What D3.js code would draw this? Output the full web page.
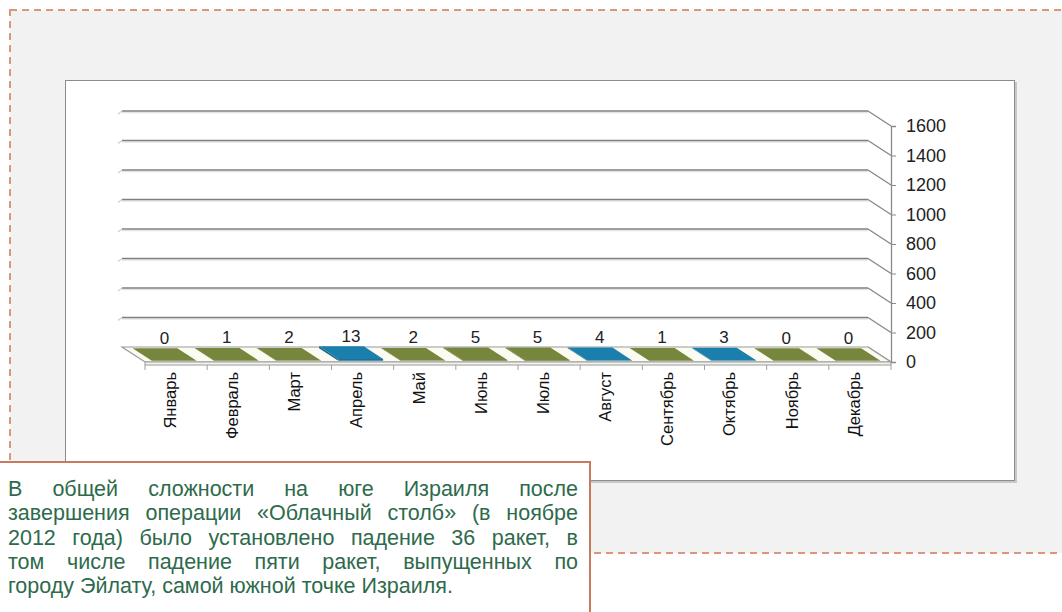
<!DOCTYPE html>
<html><head><meta charset="utf-8">
<script src="https://cdn.jsdelivr.net/npm/d3@7"></script>
<style>body{margin:0;background:#fff;} svg{display:block}</style>
</head><body>
<svg id="c" width="1062" height="612"></svg>
<script>
// ---- data ----
const months = ["Январь","Февраль","Март","Апрель","Май","Июнь","Июль","Август","Сентябрь","Октябрь","Ноябрь","Декабрь"];
const rockets = [0,1,2,13,2,5,5,4,1,3,0,0];
const yTicks = [0,200,400,600,800,1000,1200,1400,1600];
const highlightMonths = ["Апрель","Август","Октябрь"];
const noteLines = [
  "В общей сложности на юге Израиля после",
  "завершения операции «Облачный столб» (в ноябре",
  "2012 года) было установлено падение 36 ракет, в",
  "том числе падение пяти ракет, выпущенных по",
  "городу Эйлату, самой южной точке Израиля."
];

// ---- layout ----
const svg = d3.select("#c");
const FONT = "'Liberation Sans', Arial, sans-serif";
const D = {x:-23, y:-15};           // depth offset (front -> back)
const x = d3.scaleBand().domain(months).range([145, 891]).padding(0);
const y = d3.scaleLinear().domain([0,1600]).range([362,126]);
const step = x.step();

// outer dashed panel
svg.append("rect").attr("x",10).attr("y",10).attr("width",1080).attr("height",543)
  .attr("fill","#f2f2f2").attr("stroke","#d9987c").attr("stroke-width",2).attr("stroke-dasharray","7,5");

// chart box
svg.append("rect").attr("x",67).attr("y",82).attr("width",950).attr("height",401).attr("fill","#c8c8c8");
svg.append("rect").attr("x",65.5).attr("y",80.5).attr("width",949).attr("height",400)
  .attr("fill","#fff").attr("stroke","#8c8c8c");

const g = svg.append("g");

// gridlines (back wall + right side wall)
yTicks.forEach(t => {
  const yb = y(t) + D.y;
  if (t > 0) {
    g.append("line").attr("x1", x.range()[0]+D.x).attr("x2", x.range()[1]+D.x)
      .attr("y1", yb+1.5).attr("y2", yb+1.5).attr("stroke","#e4e4e4").attr("stroke-width",1.5);
    g.append("line").attr("x1", x.range()[0]+D.x).attr("x2", x.range()[1]+D.x)
      .attr("y1", yb).attr("y2", yb).attr("stroke","#808080").attr("stroke-width",1.5);
    g.append("line").attr("x1", x.range()[0]+D.x-4).attr("x2", x.range()[0]+D.x)
      .attr("y1", yb+3).attr("y2", yb).attr("stroke","#cfcfcf").attr("stroke-width",1.2);
  }
  g.append("line").attr("x1", x.range()[1]+D.x).attr("x2", x.range()[1])
    .attr("y1", yb).attr("y2", y(t)).attr("stroke","#868686").attr("stroke-width",1.3);
});

// floor
const x0 = x.range()[0], x1 = x.range()[1], y0 = y(0);
g.append("polygon")
  .attr("points", [[x0+D.x,y0+D.y],[x1+D.x,y0+D.y],[x1,y0],[x0,y0]].map(p=>p.join(",")).join(" "))
  .attr("fill","#fbfbf2").attr("stroke","#9a9a9a").attr("stroke-width",1.2);
g.append("rect").attr("x",x0).attr("y",y0).attr("width",x1-x0).attr("height",3)
  .attr("fill","#f4f4ec").attr("stroke","#9a9a9a").attr("stroke-width",1);

// bars (3D boxes)
const bw = step*0.72, f0 = 0.08, f1 = 0.92;
const colorOf = m => highlightMonths.includes(m) ? "#1b7fae" : "#76863c";
months.forEach((m,i) => {
  const v = rockets[i];
  const bx0 = x(m) + (step-bw)/2, bx1 = bx0 + bw;
  const yv = y(v);
  const P = (px, py, f) => [px + f*D.x, py + f*D.y];
  const col = d3.color(colorOf(m));
  g.append("polygon").attr("points",[P(bx0,yv,f0),P(bx0,yv,f1),P(bx0,y0,f1),P(bx0,y0,f0)].map(p=>p.join(",")).join(" "))
    .attr("fill", col.darker(0.6));
  g.append("polygon").attr("points",[P(bx0,yv,f0),P(bx1,yv,f0),P(bx1,y0,f0),P(bx0,y0,f0)].map(p=>p.join(",")).join(" "))
    .attr("fill", col.darker(0.3));
  g.append("polygon").attr("points",[P(bx0,yv,f0),P(bx1,yv,f0),P(bx1,yv,f1),P(bx0,yv,f1)].map(p=>p.join(",")).join(" "))
    .attr("fill", col);
  g.append("text").attr("x", (bx0+bx1)/2 + 0.5*D.x).attr("y", yv + 0.5*D.y - 11)
    .attr("text-anchor","middle").attr("font-family",FONT).attr("font-size",17).attr("fill","#222")
    .text(v);
});

// category ticks & labels
d3.range(months.length+1).forEach(i => {
  const tx = x0 + i*step;
  g.append("line").attr("x1",tx).attr("x2",tx).attr("y1",y0+3).attr("y2",y0+8).attr("stroke","#a0a0a0");
});
months.forEach(m => {
  const cx = x(m) + step/2 - 6;
  g.append("text").attr("transform",`translate(${cx},372) rotate(-90)`)
    .attr("text-anchor","end").attr("dy","0.35em")
    .attr("font-family",FONT).attr("font-size",16.5).attr("fill","#111").text(m);
});

// value axis (right)
const ax = g.append("g").attr("transform",`translate(${x1},0)`)
  .call(d3.axisRight(y).tickValues(yTicks).tickSize(5).tickPadding(10).tickFormat(d3.format("d")));
ax.select(".domain").attr("stroke","#8a8a8a").attr("stroke-width",1.3);
ax.selectAll(".tick line").attr("stroke","#8a8a8a");
ax.selectAll(".tick text").attr("font-family",FONT).attr("font-size",18).attr("fill","#222");

// note box
svg.append("rect").attr("x",-2).attr("y",462).attr("width",592).attr("height",170)
  .attr("fill","#fff").attr("stroke","#c87a5a").attr("stroke-width",2);
const noteLeft = 8, noteRight = 578, lineH = 24.3, firstBase = 496;
const note = svg.append("g").attr("font-family",FONT).attr("font-size",21.5).attr("fill","#2e6a4c");
noteLines.forEach((line, li) => {
  const by = firstBase + li*lineH;
  const words = line.split(" ");
  if (li === noteLines.length-1) {
    note.append("text").attr("x",noteLeft).attr("y",by).text(line);
    return;
  }
  const widths = words.map(w => {
    const t = note.append("text").text(w);
    const wd = t.node().getComputedTextLength(); t.remove(); return wd;
  });
  const gap = (noteRight - noteLeft - d3.sum(widths)) / (words.length-1);
  let cx = noteLeft;
  words.forEach((w,wi) => {
    note.append("text").attr("x",cx).attr("y",by).text(w);
    cx += widths[wi] + gap;
  });
});
</script>
</body></html>
